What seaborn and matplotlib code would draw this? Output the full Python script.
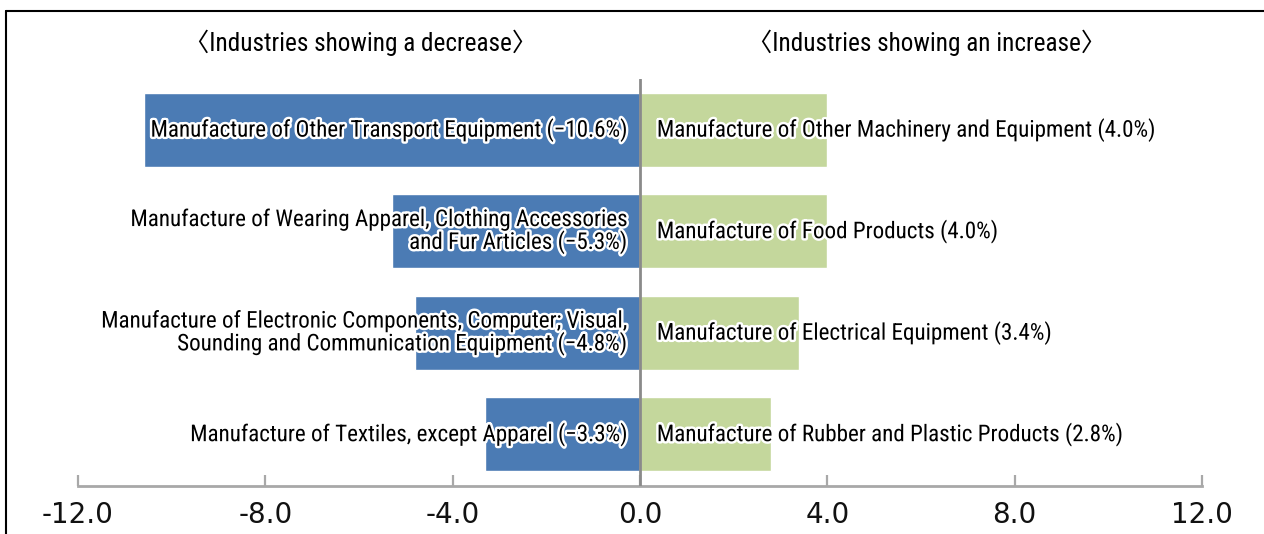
import matplotlib
matplotlib.use("Agg")
import matplotlib.pyplot as plt
import matplotlib.patheffects as pe
from matplotlib.lines import Line2D
import seaborn as sns
import pandas as pd

# ---- data ----
rows = ["r1", "r2", "r3", "r4"]
dec_labels = [
    "Manufacture of Other Transport Equipment (\u221210.6%)",
    "Manufacture of Wearing Apparel, Clothing Accessories\nand Fur Articles (\u22125.3%)",
    "Manufacture of Electronic Components, Computer; Visual,\nSounding and Communication Equipment (\u22124.8%)",
    "Manufacture of Textiles, except Apparel (\u22123.3%)",
]
dec_values = [-10.6, -5.3, -4.8, -3.3]
inc_labels = [
    "Manufacture of Other Machinery and Equipment (4.0%)",
    "Manufacture of Food Products (4.0%)",
    "Manufacture of Electrical Equipment (3.4%)",
    "Manufacture of Rubber and Plastic Products (2.8%)",
]
inc_values = [4.0, 4.0, 3.4, 2.8]
header_left = "\u3008Industries showing a decrease\u3009"
header_right = "\u3008Industries showing an increase\u3009"
xticks = [-12, -8, -4, 0, 4, 8, 12]
xticklabels = ["-12.0", "-8.0", "-4.0", "0.0", "4.0", "8.0", "12.0"]

BLUE = "#4B7BB4"
GREEN = "#C4D79C"

sns.set_theme(style="white")
label_family = ["Roboto Condensed", "Archivo Narrow", "IBM Plex Sans Condensed",
                "Liberation Sans", "Noto Sans CJK KR", "DejaVu Sans"]
tick_family = ["DejaVu Sans"]

fig = plt.figure(figsize=(12.64, 5.34), dpi=100)
W, H = 1264, 534
ax = fig.add_axes([78 / W, 1 - 486 / H, (1202 - 78) / W, (486 - 79) / H])

dec_df = pd.DataFrame({"row": rows, "value": dec_values})
inc_df = pd.DataFrame({"row": rows, "value": inc_values})
sns.barplot(data=dec_df, x="value", y="row", order=rows, color=BLUE,
            saturation=1, width=0.73, orient="h", ax=ax)
sns.barplot(data=inc_df, x="value", y="row", order=rows, color=GREEN,
            saturation=1, width=0.73, orient="h", ax=ax)

ax.set_xlim(-12, 12)
ax.set_ylim(3.51, -0.50)
ax.set_xlabel("")
ax.set_ylabel("")
ax.set_yticks([])
ax.axvline(0, color="#8a8a8a", lw=2, zorder=3)

for s in ["top", "right", "left"]:
    ax.spines[s].set_visible(False)
ax.spines["bottom"].set_color("#a8a8a8")
ax.spines["bottom"].set_linewidth(2)
ax.set_xticks(xticks)
ax.set_xticklabels(xticklabels, fontsize=20, family=tick_family)
ax.tick_params(axis="x", direction="in", length=8, width=1.6, color="#a8a8a8",
               pad=11, labelcolor="#111111", bottom=True)

stroke = [pe.withStroke(linewidth=3.5, foreground="white")]
for i, lab in enumerate(dec_labels):
    ax.text(-0.28, i, lab, ha="right", va="center", fontsize=16.6,
            family=label_family, color="black", linespacing=0.92,
            multialignment="right", path_effects=stroke, zorder=5)
for i, lab in enumerate(inc_labels):
    ax.text(0.36, i, lab, ha="left", va="center", fontsize=16.6,
            family=label_family, color="black", linespacing=0.92,
            path_effects=stroke, zorder=5)

fig.text(361 / W, 1 - 43 / H, header_left, ha="center", va="center",
         fontsize=18.2, family=label_family, color="black")
fig.text(927 / W, 1 - 43 / H, header_right, ha="center", va="center",
         fontsize=18.2, family=label_family, color="black")

# outer frame (left and top edges)
fig.add_artist(Line2D([6 / W, 6 / W], [0, 1 - 11 / H], transform=fig.transFigure,
                      color="black", lw=1.5))
fig.add_artist(Line2D([6 / W, 1], [1 - 11 / H, 1 - 11 / H], transform=fig.transFigure,
                      color="black", lw=1.5))

fig.savefig("out.png", dpi=100)
